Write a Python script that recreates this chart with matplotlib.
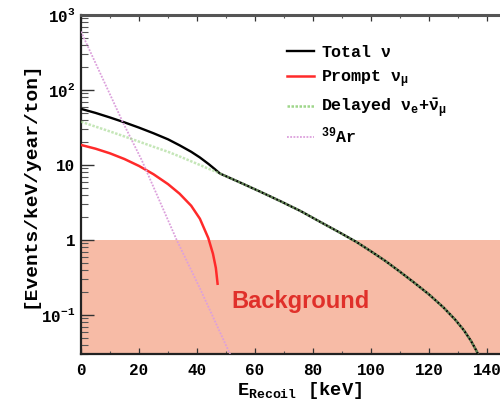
import matplotlib
matplotlib.use("Agg")
import matplotlib.pyplot as plt
from matplotlib.ticker import MultipleLocator, LogLocator, FixedLocator, FixedFormatter, NullFormatter

plt.rcParams['font.family'] = ['Liberation Mono', 'DejaVu Sans']
plt.rcParams['font.weight'] = 'bold'
plt.rcParams['mathtext.fontset'] = 'custom'
plt.rcParams['mathtext.rm'] = 'Liberation Mono:bold'
plt.rcParams['mathtext.it'] = 'Liberation Mono:bold'
plt.rcParams['mathtext.bf'] = 'Liberation Mono:bold'

# ---- data ----
E_total = [0, 5, 10, 15, 20, 25, 30, 34, 38, 41, 44, 46, 47.9,
           55, 62, 69, 76, 83, 89, 95, 100, 105, 110, 115, 120, 125, 129, 132, 134.5, 136.4, 137]
total = [56, 49.5, 43, 37, 31.5, 26.5, 22, 18.3, 15, 12.6, 10.3, 8.9, 7.7,
         5.81, 4.37, 3.26, 2.40, 1.70, 1.27, 0.94, 0.706, 0.524, 0.377, 0.268, 0.188, 0.126, 0.0869, 0.0628, 0.045, 0.0331, 0.0295]

E_prompt = [0, 5, 10, 15, 20, 25, 30, 34, 38, 41, 43.9, 45.5, 46.5, 47.1]
prompt = [18.5, 16.5, 14.3, 12.0, 9.71, 7.53, 5.56, 4.14, 2.86, 1.92, 1.06, 0.656, 0.424, 0.261]

E_delayed = [0, 5, 10, 15, 20, 25, 30, 34, 38, 41, 44, 46, 47.9,
             55, 62, 69, 76, 83, 89, 95, 100, 105, 110, 115, 120, 125, 129, 132, 134.5, 136.4, 137]
delayed = [37.8, 32.5, 28, 24, 20.5, 17.5, 15, 13.0, 11.2, 10.0, 8.9, 8.3, 7.7,
           5.81, 4.37, 3.26, 2.40, 1.70, 1.27, 0.94, 0.706, 0.524, 0.377, 0.268, 0.188, 0.126, 0.0869, 0.0628, 0.045, 0.0331, 0.0295]

E_ar = [0, 14.6, 20.9, 33, 41, 51.4]
ar39 = [600, 36, 11.7, 1.0, 0.227, 0.03]

bg_level = 1.0
xlim = (0, 150)
ylim = (0.03, 1000)
xticks = [0, 20, 40, 60, 80, 100, 120, 140]
yticks = [0.1, 1, 10, 100, 1000]
ytick_labels = [r'10$^{-1}$', '1', '10', r'10$^{2}$', r'10$^{3}$']
legend_labels = [r'Total $\nu$', r'Prompt $\nu_{\mu}$', r'Delayed $\nu_{e}$+$\bar{\nu}_{\mu}$', r'$^{39}$Ar']

fig = plt.figure(figsize=(5.0, 4.01), dpi=100)
ax = fig.add_axes([0.162, 0.1167, 0.87, 0.8459])

ax.axhspan(ylim[0], bg_level, color='#f7bba6', lw=0, zorder=0)

h_tot, = ax.plot(E_total, total, color='black', lw=1.7, zorder=3)
h_pr, = ax.plot(E_prompt, prompt, color='#ff2a2a', lw=1.8, zorder=3)
h_del, = ax.plot(E_delayed, delayed, color='#9fd68a', lw=1.8, ls=(0, (1, 0.6)), zorder=4, alpha=0.6)
h_ar, = ax.plot(E_ar, ar39, color='#dca0dc', lw=1.3, ls=(0, (1, 0.8)), zorder=3)

ax.text(51.7, 0.124, 'Background', color='#e0302a', fontsize=17, fontweight='bold',
        family='Liberation Sans', va='baseline', ha='left', zorder=5)

ax.set_yscale('log')
ax.set_xlim(*xlim)
ax.set_ylim(*ylim)

ax.xaxis.set_major_locator(FixedLocator(xticks))
ax.xaxis.set_minor_locator(MultipleLocator(10))
ax.yaxis.set_major_locator(FixedLocator(yticks))
ax.yaxis.set_major_formatter(FixedFormatter(ytick_labels))
ax.yaxis.set_minor_locator(LogLocator(base=10, subs=range(2, 10)))
ax.yaxis.set_minor_formatter(NullFormatter())

ax.tick_params(axis='y', which='major', direction='in', length=9, width=1.0, left=True, right=False,
               labelsize=11.5, pad=4, color='#333333')
ax.tick_params(axis='y', which='minor', direction='in', length=5, width=0.8, left=True, right=False,
               color='#555555')
ax.tick_params(axis='x', which='major', direction='in', length=4, width=0.9, top=True,
               labelsize=11.5, pad=6, color='#333333')
ax.tick_params(axis='x', which='minor', direction='in', length=2.5, width=0.8, top=True, color='#555555')
for lab in ax.get_xticklabels() + ax.get_yticklabels():
    lab.set_fontweight('bold')

for s in ['left', 'bottom']:
    ax.spines[s].set_linewidth(1.6)
    ax.spines[s].set_color('#222222')
ax.spines['top'].set_linewidth(2.2)
ax.spines['top'].set_color('#555555')
ax.spines['right'].set_visible(False)

ax.set_xlabel(r'E$_{\mathrm{Recoil}}$ [keV]', fontsize=13.5, fontweight='bold')
ax.set_ylabel('[Events/keV/year/ton]', fontsize=14, fontweight='bold', labelpad=2)
ax.xaxis.set_label_coords(0.503, -0.075)

# legend: one row per entry, placed at the reference row positions (figure pixels)
handles = [h_tot, h_pr, h_del, h_ar]
row_y = [52, 79, 108, 136]
for h, lab, yp in zip(handles, legend_labels, row_y):
    lg = fig.legend([h], [lab], loc='center left', bbox_to_anchor=(287 / 500, 1 - yp / 401),
                    frameon=False, fontsize=12, handlelength=1.6, handletextpad=0.45,
                    borderpad=0, borderaxespad=0)
    for t in lg.get_texts():
        t.set_fontweight('bold')
    for l in lg.get_lines():
        l.set_alpha(1.0)

fig.savefig('out.png', dpi=100)
